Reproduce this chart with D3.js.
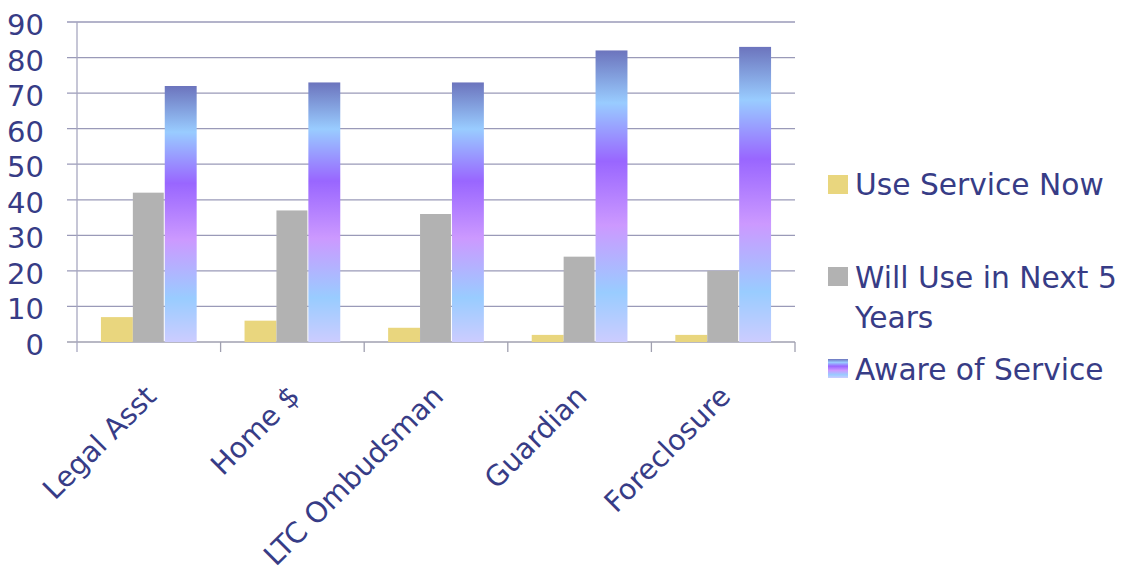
<!DOCTYPE html>
<html><head><meta charset="utf-8">
<script src="https://cdn.jsdelivr.net/npm/d3@7"></script>
<style>body{margin:0;background:#fff}svg{display:block}text{font-family:"DejaVu Sans",Verdana,sans-serif;fill:#373c86}</style>
</head><body><svg id="c" width="1122" height="577"></svg>
<script>
const categories = ["Legal Asst","Home $","LTC Ombudsman","Guardian","Foreclosure"];
const seriesNames = ["Use Service Now","Will Use in Next 5 Years","Aware of Service"];
const useNow = [7,6,4,2,2];
const willUse = [42,37,36,24,20];
const aware = [72,73,73,82,83];
const yTicks = [0,10,20,30,40,50,60,70,80,90];

const seriesValues = [useNow, willUse, aware];
const svg = d3.select("#c");
const L = 77, R = 795, T = 22, B = 342;
const x = d3.scaleBand().domain(categories).range([L,R]).paddingInner(0).paddingOuter(0);
const xi = d3.scaleBand().domain([0,1,2]).range([0,x.bandwidth()]).paddingOuter(0.75).paddingInner(0);
const y = d3.scaleLinear().domain([0,90]).range([B,T]);

const defs = svg.append("defs");
const g = defs.append("linearGradient").attr("id","aw").attr("x1",0).attr("y1",0).attr("x2",0).attr("y2",1);
[[0,"#6c74bd"],[0.18,"#99ccff"],[0.38,"#9966ff"],[0.6,"#cc99ff"],[0.83,"#99ccff"],[1,"#ccccff"]]
  .forEach(([o,c])=>g.append("stop").attr("offset",o).attr("stop-color",c));
const fills = ["#e9d67e","#b2b2b2","url(#aw)"];

// grid
svg.append("g").selectAll("line").data(yTicks).join("line")
  .attr("x1",L-10).attr("x2",R).attr("y1",d=>y(d)).attr("y2",d=>y(d))
  .attr("stroke",d=>d===0?"#a0a0b0":"#9a9ab8").attr("stroke-width",1.3);
// y axis line
svg.append("line").attr("x1",L).attr("x2",L).attr("y1",T).attr("y2",B+10).attr("stroke","#a8a8c0").attr("stroke-width",1.3);
// category ticks
svg.append("g").selectAll("line").data(categories).join("line")
  .attr("x1",d=>x(d)+x.step()).attr("x2",d=>x(d)+x.step())
  .attr("y1",B).attr("y2",B+10).attr("stroke","#a0a0b0").attr("stroke-width",1.3);

// y labels
svg.append("g").selectAll("text").data(yTicks).join("text")
  .attr("x",44).attr("y",d=>y(d)+13).attr("text-anchor","end").attr("font-size",29).text(d=>d);

// bars
seriesValues.forEach((vals,si)=>{
  svg.append("g").selectAll("rect").data(vals).join("rect")
    .attr("x",(d,i)=>x(categories[i])+xi(si)).attr("width",xi.bandwidth()-(si===1?1:0))
    .attr("y",d=>y(d)).attr("height",d=>B-y(d)).attr("fill",fills[si]);
});

// category labels
svg.append("g").selectAll("text").data(categories).join("text")
  .attr("text-anchor","end").attr("font-size",28.5)
  .attr("transform",d=>`translate(${x(d)+x.bandwidth()/2+9},${B+56}) rotate(-45)`)
  .text(d=>d);

// legend
const leg = [
  {lines:["Use Service Now"], sq:175, base:[195]},
  {lines:["Will Use in Next 5","Years"], sq:267, base:[288,328]},
  {lines:["Aware of Service"], sq:359, base:[380]}
];
leg.forEach((l,i)=>{
  svg.append("rect").attr("x",828).attr("y",l.sq).attr("width",20).attr("height",19).attr("fill",fills[i]);
  l.lines.forEach((t,j)=>svg.append("text").attr("x",855).attr("y",l.base[j]).attr("font-size",29.7).text(t));
});
</script></body></html>
